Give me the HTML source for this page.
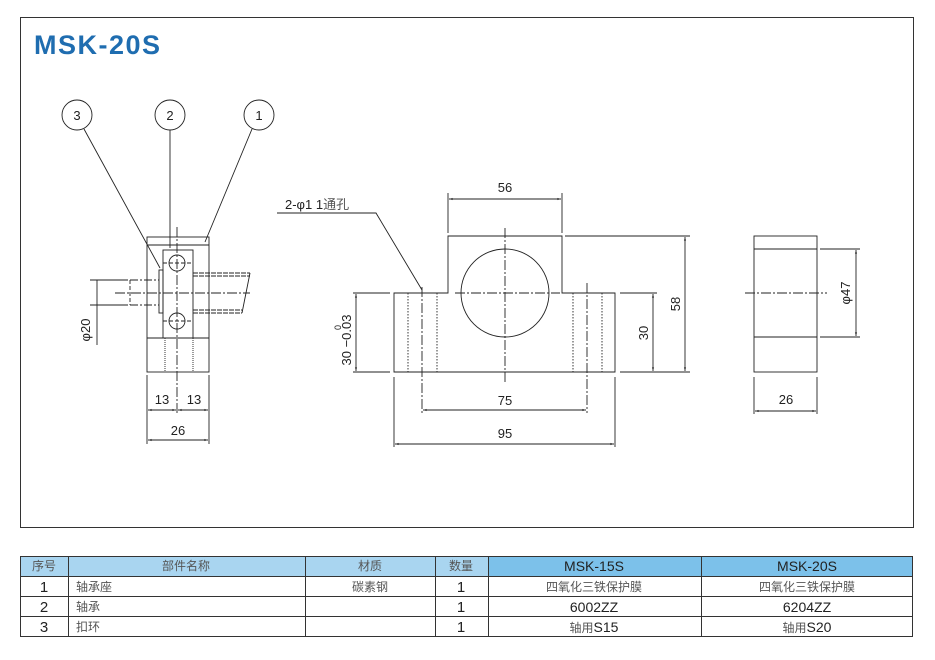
<!DOCTYPE html>
<html><head><meta charset="utf-8"><style>
body{margin:0;background:#fff;width:935px;height:660px;overflow:hidden}
svg{display:block}
text{font-family:"Liberation Sans","Noto Sans CJK SC",sans-serif;fill:#222}
.cn{font-family:"Liberation Sans","Noto Sans CJK SC",sans-serif;fill:#555}
</style></head><body>
<svg width="935" height="660" viewBox="0 0 935 660" xmlns="http://www.w3.org/2000/svg">
<defs>
<marker id="a" viewBox="0 0 10 10" refX="10" refY="5" markerWidth="6" markerHeight="4" orient="auto-start-reverse"><path d="M0,2 L10,5 L0,8 z" fill="#333"/></marker>
</defs>
<rect x="20.5" y="17.5" width="893" height="510" fill="none" stroke="#333" stroke-width="1"/>
<text x="34" y="54" style="font-size:27px;font-weight:bold;fill:#1f6db0;letter-spacing:1.5px">MSK-20S</text>

<g stroke="#222" stroke-width="0.9" fill="none">
<circle cx="77" cy="115" r="15"/><circle cx="170" cy="115" r="15"/><circle cx="259" cy="115" r="15"/>
<line x1="84" y1="129" x2="160" y2="268"/>
<line x1="170" y1="130" x2="170" y2="248"/>
<line x1="252" y1="129" x2="205" y2="242"/>
<rect x="147" y="237" width="62" height="135"/>
<line x1="147" y1="245" x2="209" y2="245"/>
<line x1="147" y1="338" x2="209" y2="338"/>
<rect x="163" y="250" width="30" height="88"/>
<rect x="159" y="270" width="4" height="43"/>
<circle cx="177" cy="263" r="8"/><circle cx="177" cy="321" r="8"/>
<line x1="163" y1="263" x2="193" y2="263" stroke-dasharray="4,2"/>
<line x1="163" y1="321" x2="193" y2="321" stroke-dasharray="4,2"/>
<line x1="177" y1="227" x2="177" y2="415" stroke-dasharray="10,2,2,2"/>
<line x1="115" y1="293" x2="250" y2="293" stroke-dasharray="10,2,2,2"/>
<line x1="130" y1="280" x2="159" y2="280" stroke-dasharray="8,2,2,2"/>
<line x1="130" y1="305" x2="159" y2="305" stroke-dasharray="8,2,2,2"/>
<line x1="130" y1="280" x2="130" y2="305" stroke-dasharray="4,2"/>
<line x1="193" y1="273" x2="250" y2="273" stroke-dasharray="5,1"/>
<line x1="193" y1="276" x2="250" y2="276" stroke-dasharray="5,1"/>
<line x1="193" y1="310" x2="242" y2="310" stroke-dasharray="5,1"/>
<line x1="193" y1="313" x2="242" y2="313" stroke-dasharray="5,1"/>
<line x1="250" y1="273" x2="242" y2="313"/>
<line x1="165" y1="338" x2="165" y2="372" stroke-dasharray="1,1"/>
<line x1="193" y1="338" x2="193" y2="372" stroke-dasharray="1,1"/>
<line x1="90" y1="280" x2="128" y2="280"/><line x1="90" y1="305" x2="128" y2="305"/>
<line x1="97" y1="280" x2="97" y2="345"/>
<line x1="147" y1="375" x2="147" y2="444"/><line x1="209" y1="375" x2="209" y2="444"/>
<line x1="148" y1="410" x2="176" y2="410" marker-start="url(#a)" marker-end="url(#a)"/>
<line x1="178" y1="410" x2="208" y2="410" marker-start="url(#a)" marker-end="url(#a)"/>
<line x1="148" y1="440" x2="208" y2="440" marker-start="url(#a)" marker-end="url(#a)"/>

<path d="M394,293 H448 V236 H562 V293 H615 V372 H394 Z"/>
<circle cx="505" cy="293" r="44"/>
<line x1="505" y1="228" x2="505" y2="382" stroke-dasharray="10,2,2,2"/>
<line x1="455" y1="293" x2="560" y2="293" stroke-dasharray="10,2,2,2"/>
<line x1="408" y1="293" x2="408" y2="372" stroke-dasharray="1.5,1.5"/>
<line x1="437" y1="293" x2="437" y2="372" stroke-dasharray="1.5,1.5"/>
<line x1="573" y1="293" x2="573" y2="372" stroke-dasharray="1.5,1.5"/>
<line x1="602" y1="293" x2="602" y2="372" stroke-dasharray="1.5,1.5"/>
<line x1="422" y1="287" x2="422" y2="413" stroke-dasharray="10,2,2,2"/>
<line x1="587" y1="283" x2="587" y2="413" stroke-dasharray="10,2,2,2"/>
<line x1="448" y1="193" x2="448" y2="233"/><line x1="562" y1="193" x2="562" y2="233"/>
<line x1="449" y1="199" x2="561" y2="199" marker-start="url(#a)" marker-end="url(#a)"/>
<line x1="565" y1="236" x2="690" y2="236"/>
<line x1="620" y1="372" x2="690" y2="372"/>
<line x1="620" y1="293" x2="657" y2="293"/>
<line x1="685" y1="237" x2="685" y2="371" marker-start="url(#a)" marker-end="url(#a)"/>
<line x1="653" y1="294" x2="653" y2="371" marker-start="url(#a)" marker-end="url(#a)"/>
<line x1="353" y1="293" x2="390" y2="293"/><line x1="353" y1="372" x2="390" y2="372"/>
<line x1="356" y1="294" x2="356" y2="371" marker-start="url(#a)" marker-end="url(#a)"/>
<line x1="394" y1="377" x2="394" y2="447"/><line x1="615" y1="377" x2="615" y2="447"/>
<line x1="423" y1="410" x2="586" y2="410" marker-start="url(#a)" marker-end="url(#a)"/>
<line x1="395" y1="444" x2="614" y2="444" marker-start="url(#a)" marker-end="url(#a)"/>
<polyline points="277,213 376,213 422,290"/>

<rect x="754" y="236" width="63" height="136"/>
<line x1="754" y1="249" x2="817" y2="249"/><line x1="754" y1="337" x2="817" y2="337"/>
<line x1="745" y1="293" x2="827" y2="293" stroke-dasharray="10,2,2,2"/>
<line x1="820" y1="249" x2="860" y2="249"/><line x1="820" y1="337" x2="860" y2="337"/>
<line x1="856" y1="250" x2="856" y2="336" marker-start="url(#a)" marker-end="url(#a)"/>
<line x1="754" y1="377" x2="754" y2="414"/><line x1="817" y1="377" x2="817" y2="414"/>
<line x1="755" y1="411" x2="816" y2="411" marker-start="url(#a)" marker-end="url(#a)"/>
</g>

<g style="font-size:13px">
<text x="77" y="120" text-anchor="middle">3</text>
<text x="170" y="120" text-anchor="middle">2</text>
<text x="259" y="120" text-anchor="middle">1</text>
<text x="162" y="404" text-anchor="middle">13</text>
<text x="194" y="404" text-anchor="middle">13</text>
<text x="178" y="435" text-anchor="middle">26</text>
<text transform="translate(90,330) rotate(-90)" text-anchor="middle">φ20</text>
<text x="285" y="209">2-φ1 1<tspan class="cn">通孔</tspan></text>
<text x="505" y="192" text-anchor="middle">56</text>
<text x="505" y="405" text-anchor="middle">75</text>
<text x="505" y="438" text-anchor="middle">95</text>
<text transform="translate(680,304) rotate(-90)" text-anchor="middle">58</text>
<text transform="translate(648,333) rotate(-90)" text-anchor="middle">30</text>
<text transform="translate(351,340) rotate(-90)" text-anchor="middle">30 −0.03</text>
<text transform="translate(341,330) rotate(-90)" style="font-size:9px">0</text>
<text transform="translate(850,293) rotate(-90)" text-anchor="middle">φ47</text>
<text x="786" y="404" text-anchor="middle">26</text>
</g>

<rect x="20" y="556" width="468" height="20" fill="#a9d5f0"/>
<rect x="488" y="556" width="425" height="20" fill="#7cc1ea"/>
<g stroke="#333" stroke-width="1" fill="none">
<rect x="20.5" y="556.5" width="892" height="80"/>
<line x1="20" y1="576.5" x2="913" y2="576.5"/>
<line x1="20" y1="596.5" x2="913" y2="596.5"/>
<line x1="20" y1="616.5" x2="913" y2="616.5"/>
<line x1="68.5" y1="556" x2="68.5" y2="636"/>
<line x1="305.5" y1="556" x2="305.5" y2="636"/>
<line x1="435.5" y1="556" x2="435.5" y2="636"/>
<line x1="488.5" y1="556" x2="488.5" y2="636"/>
<line x1="701.5" y1="556" x2="701.5" y2="636"/>
</g>
<g style="font-size:12px">
<text class="cn" x="44" y="570" text-anchor="middle">序号</text>
<text class="cn" x="186" y="570" text-anchor="middle">部件名称</text>
<text class="cn" x="370" y="570" text-anchor="middle">材质</text>
<text class="cn" x="461" y="570" text-anchor="middle">数量</text>
<text x="594" y="571" text-anchor="middle" style="font-size:14px">MSK-15S</text>
<text x="807" y="571" text-anchor="middle" style="font-size:14px">MSK-20S</text>
<text x="44" y="592" text-anchor="middle" style="font-size:15px">1</text>
<text x="44" y="612" text-anchor="middle" style="font-size:15px">2</text>
<text x="44" y="632" text-anchor="middle" style="font-size:15px">3</text>
<text class="cn" x="76" y="591">轴承座</text>
<text class="cn" x="76" y="611">轴承</text>
<text class="cn" x="76" y="631">扣环</text>
<text class="cn" x="370" y="591" text-anchor="middle">碳素钢</text>
<text x="461" y="592" text-anchor="middle" style="font-size:15px">1</text>
<text x="461" y="612" text-anchor="middle" style="font-size:15px">1</text>
<text x="461" y="632" text-anchor="middle" style="font-size:15px">1</text>
<text class="cn" x="594" y="591" text-anchor="middle">四氧化三铁保护膜</text>
<text class="cn" x="807" y="591" text-anchor="middle">四氧化三铁保护膜</text>
<text x="594" y="612" text-anchor="middle" style="font-size:14px">6002ZZ</text>
<text x="807" y="612" text-anchor="middle" style="font-size:14px">6204ZZ</text>
<text x="594" y="632" text-anchor="middle"><tspan class="cn">轴用</tspan><tspan style="font-size:14px">S15</tspan></text>
<text x="807" y="632" text-anchor="middle"><tspan class="cn">轴用</tspan><tspan style="font-size:14px">S20</tspan></text>
</g>
</svg>
</body></html>
